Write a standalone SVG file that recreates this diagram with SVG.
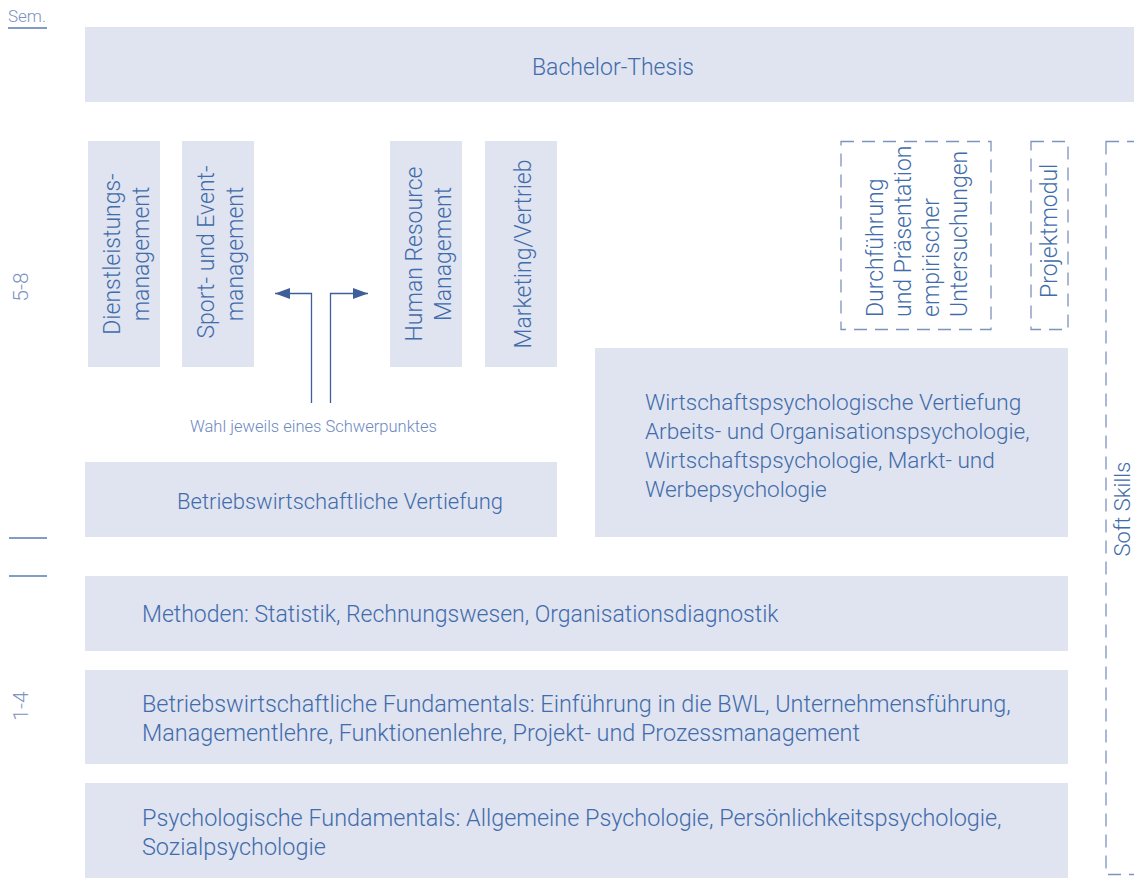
<svg xmlns="http://www.w3.org/2000/svg" width="1134" height="878" viewBox="0 0 1134 878">
<defs>
<style>
.box{fill:#e0e3f0}
.dash{fill:none;stroke:#7d93c0;stroke-width:1.3;stroke-dasharray:13 8}
.t{font-family:Roboto,"Liberation Sans",sans-serif;font-weight:300;font-size:23px;fill:#3f6cab}
.s{font-family:Roboto,"Liberation Sans",sans-serif;font-weight:300;font-size:16.5px;fill:#6d89bf}
.lbl{font-family:Roboto,"Liberation Sans",sans-serif;font-weight:300;font-size:21px;fill:#7d93c0}
.rule{stroke:#5a7ab5;stroke-width:1.3}
.conn{fill:none;stroke:#3f5f9a;stroke-width:1.3}
</style>
<marker id="ah" markerWidth="15" markerHeight="11" refX="15" refY="5.5" orient="auto" markerUnits="userSpaceOnUse">
<path d="M0,0 L15,5.5 L0,11 Z" fill="#3f5f9a"/>
</marker>
</defs>
<rect width="1134" height="878" fill="#fff"/>
<g id="semester-labels">
<text class="lbl" x="8" y="22" style="font-size:17px">Sem.</text>
<line class="rule" x1="8" y1="28" x2="47" y2="28"/>
<text class="lbl" transform="translate(28,287) rotate(-90)" text-anchor="middle">5-8</text>
<line class="rule" x1="9" y1="538" x2="47" y2="538"/>
<line class="rule" x1="9" y1="576" x2="47" y2="576"/>
<text class="lbl" transform="translate(28,706) rotate(-90)" text-anchor="middle">1-4</text>
</g>
<g id="bachelor-thesis">
<rect class="box" x="85" y="27" width="1049" height="75"/>
<text class="t" x="613" y="75" text-anchor="middle">Bachelor-Thesis</text>
</g>
<g id="dienstleistungsmanagement">
<rect class="box" x="88" y="141" width="72" height="226"/>
<text class="t" transform="rotate(-90)" text-anchor="middle"><tspan x="-254" y="120">Dienstleistungs-</tspan><tspan x="-254" y="149">management</tspan></text>
</g>
<g id="sport-eventmanagement">
<rect class="box" x="182" y="141" width="72" height="226"/>
<text class="t" transform="rotate(-90)" text-anchor="middle"><tspan x="-252" y="214">Sport- und Event-</tspan><tspan x="-254" y="243">management</tspan></text>
</g>
<g id="human-resource-management">
<rect class="box" x="390" y="141" width="72" height="226"/>
<text class="t" transform="rotate(-90)" text-anchor="middle"><tspan x="-254" y="422">Human Resource</tspan><tspan x="-254" y="451">Management</tspan></text>
</g>
<g id="marketing-vertrieb">
<rect class="box" x="485" y="141" width="72" height="226"/>
<text class="t" transform="rotate(-90)" text-anchor="middle" x="-254" y="531">Marketing/Vertrieb</text>
</g>
<g id="durchfuehrung">
<rect class="dash" x="841" y="141.5" width="150" height="188"/>
<text class="t" transform="rotate(-90)"><tspan x="-317" y="883">Durchführung</tspan><tspan x="-317" y="911">und Präsentation</tspan><tspan x="-317" y="939">empirischer</tspan><tspan x="-317" y="967">Untersuchungen</tspan></text>
</g>
<g id="projektmodul">
<rect class="dash" x="1031" y="141.5" width="37" height="188"/>
<text class="t" transform="rotate(-90)" x="-298" y="1057">Projektmodul</text>
</g>
<g id="soft-skills">
<rect class="dash" x="1106" y="141.5" width="40" height="733"/>
<text class="t" transform="rotate(-90)" text-anchor="middle" x="-509" y="1130" style="font-size:22px">Soft Skills</text>
</g>
<g id="betriebswirtschaftliche-vertiefung">
<rect class="box" x="85" y="462" width="472" height="75"/>
<text class="t" x="340" y="509" text-anchor="middle" style="font-size:22px">Betriebswirtschaftliche Vertiefung</text>
</g>
<g id="wirtschaftspsychologische-vertiefung">
<rect class="box" x="595" y="348" width="473" height="189"/>
<text class="t" style="font-size:22.6px"><tspan x="645" y="410">Wirtschaftspsychologische Vertiefung</tspan><tspan x="645" y="439">Arbeits- und Organisationspsychologie,</tspan><tspan x="645" y="468">Wirtschaftspsychologie, Markt- und</tspan><tspan x="645" y="497">Werbepsychologie</tspan></text>
</g>
<g id="methoden">
<rect class="box" x="85" y="576" width="983" height="75"/>
<text class="t" x="142" y="622">Methoden: Statistik, Rechnungswesen, Organisationsdiagnostik</text>
</g>
<g id="bw-fundamentals">
<rect class="box" x="85" y="670" width="983" height="94"/>
<text class="t" style="font-size:23.4px"><tspan x="142" y="712">Betriebswirtschaftliche Fundamentals: Einführung in die BWL, Unternehmensführung,</tspan><tspan x="142" y="741">Managementlehre, Funktionenlehre, Projekt- und Prozessmanagement</tspan></text>
</g>
<g id="psych-fundamentals">
<rect class="box" x="85" y="783" width="983" height="95"/>
<text class="t" style="font-size:23.4px"><tspan x="142" y="826">Psychologische Fundamentals: Allgemeine Psychologie, Persönlichkeitspsychologie,</tspan><tspan x="142" y="855">Sozialpsychologie</tspan></text>
</g>
<g id="connectors">
<path class="conn" d="M311.5,403 V293.5 H275" marker-end="url(#ah)"/>
<path class="conn" d="M330.5,403 V293.5 H368" marker-end="url(#ah)"/>
</g>
<g id="wahl-label">
<text class="s" x="190" y="432">Wahl jeweils eines Schwerpunktes</text>
</g>
</svg>
